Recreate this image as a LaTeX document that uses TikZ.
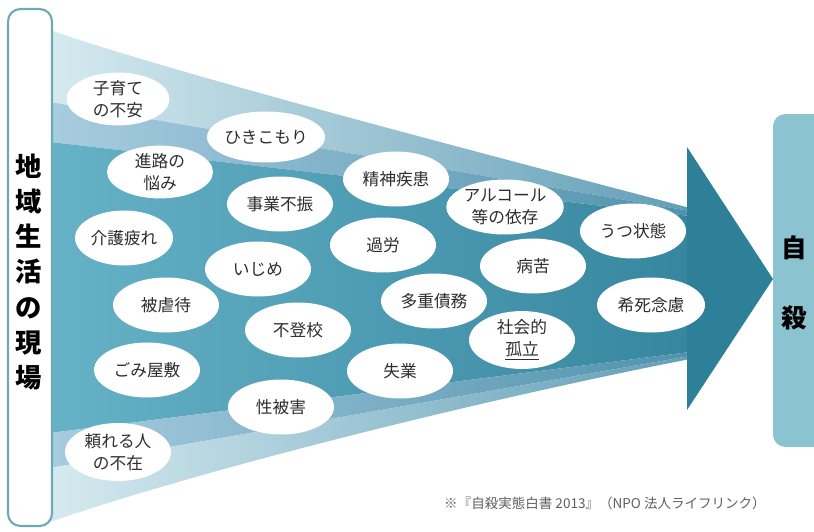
\documentclass[tikz,border=0pt]{standalone}
\usepackage{fontspec}
\setmainfont{Noto Sans CJK JP}
\usetikzlibrary{shapes.geometric}
\definecolor{framecyan}{RGB}{111,168,186}
\definecolor{goalblue}{RGB}{140,195,209}
\definecolor{paleband}{RGB}{214,234,240}
\definecolor{midband}{RGB}{168,204,224}
\definecolor{palefar}{RGB}{98,158,182}
\definecolor{midfar}{RGB}{80,146,172}
\definecolor{tealleft}{RGB}{102,178,199}
\definecolor{tealright}{RGB}{54,134,159}
\definecolor{headteal}{RGB}{46,127,152}
\definecolor{inktext}{RGB}{45,45,45}
\definecolor{notegray}{RGB}{95,95,95}

\begin{document}
\begin{tikzpicture}[x=0.02cm, y=-0.02cm,
  worry/.style={ellipse, fill=white, inner sep=0pt, minimum width=2.12cm, minimum height=1.1cm, font=\fontsize{9.5}{12.5}\selectfont, text=inktext, align=center}]
  \useasboundingbox (0,0) rectangle (814,531);

  % Funnel bands, light at the edges and teal in the middle
  \shade[left color=paleband, right color=palefar] (50,30) .. controls (170,72) and (470,150) .. (690,208) -- (690,211) -- (50,102) -- cycle;
  \shade[left color=midband, right color=midfar] (50,102) -- (690,211) -- (690,216) -- (50,142) -- cycle;
  \shade[left color=tealleft, right color=tealright] (50,142) -- (690,216) -- (690,352) -- (50,433) -- cycle;
  \shade[left color=midband, right color=midfar] (50,433) -- (690,352) -- (690,356) -- (50,468) -- cycle;
  \shade[left color=paleband, right color=palefar] (50,468) -- (690,356) -- (690,359) .. controls (480,400) and (200,470) .. (50,522) -- cycle;

  % Arrow head
  \fill[headteal] (687,147) -- (773,279) -- (687,410) -- cycle;

  % Left column
  \node[draw=framecyan, line width=1.2pt, rounded corners=7pt, fill=white, minimum width=0.88cm, minimum height=10.34cm] (site) at (30,267.5) {};
  \node[font=\fontsize{15}{20}\selectfont\bfseries, align=center] (sitelabel) at (29,272) {地\\域\\生\\活\\の\\現\\場};

  % Right column
  \begin{scope}
    \clip (0,0) rectangle (814,531);
    \node[fill=goalblue, rounded corners=7pt, minimum width=1.2cm, minimum height=6.66cm] (goal) at (803,280.5) {};
  \end{scope}
  \node[font=\fontsize{14.5}{39.5}\selectfont\bfseries, align=center] (goallabel) at (794,283) {自\\殺};

  % Worries
  \node[worry, minimum width=2.06cm, minimum height=1.04cm] (kosodate) at (118,99) {子育て\\の不安};
  \node[worry, minimum height=1.02cm] (hikikomori) at (266,137) {ひきこもり};
  \node[worry, minimum height=1.0cm] (shinro) at (160,172) {進路の\\悩み};
  \node[worry] (jigyo) at (280,204) {事業不振};
  \node[worry] (seishin) at (396,179) {精神疾患};
  \node[worry] (alcohol) at (505,207) {アルコール\\等の依存};
  \node[worry, minimum width=1.96cm] (kaigo) at (124,238) {介護疲れ};
  \node[worry] (ijime) at (258,269) {いじめ};
  \node[worry] (karo) at (383,245) {過労};
  \node[worry] (byoku) at (533,266) {病苦};
  \node[worry] (utsu) at (633,231) {うつ状態};
  \node[worry, minimum width=2.16cm] (kishi) at (651,305) {希死念慮};
  \node[worry] (higyaku) at (166,305) {被虐待};
  \node[worry] (tajuu) at (434,301) {多重債務};
  \node[worry] (futoko) at (298,330) {不登校};
  \node[worry] (shakai) at (522,340) {社会的\\\underline{孤立}};
  \node[worry] (gomi) at (147,370) {ごみ屋敷};
  \node[worry] (shitsugyo) at (400,371) {失業};
  \node[worry] (seihigai) at (281,407) {性被害};
  \node[worry, minimum height=1.16cm] (tayoreru) at (118,452) {頼れる人\\の不在};

  % Source
  \node[font=\fontsize{7.7}{9}\selectfont, text=notegray] (source) at (605,503) {※『自殺実態白書 2013』（NPO 法人ライフリンク）};
\end{tikzpicture}
\end{document}
